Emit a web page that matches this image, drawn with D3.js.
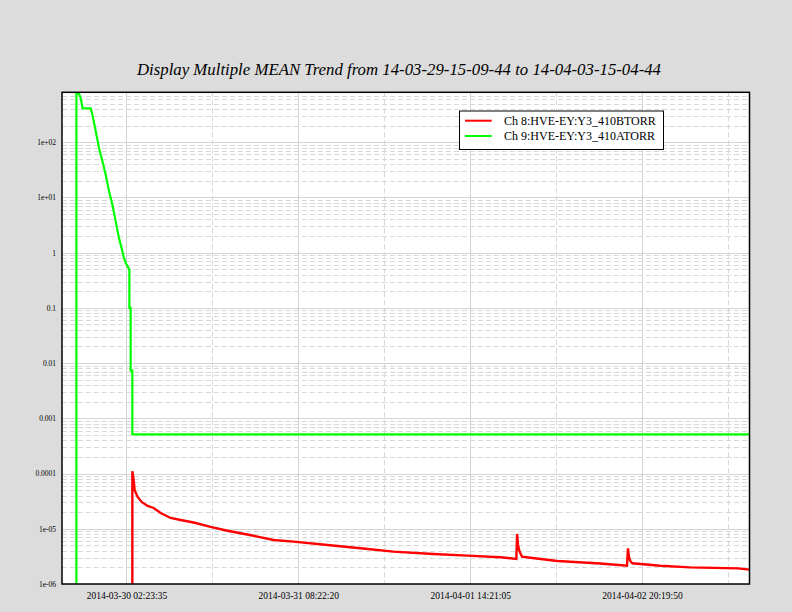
<!DOCTYPE html>
<html><head><meta charset="utf-8">
<script src="https://cdn.jsdelivr.net/npm/d3@7"></script>
<style>html,body{margin:0;padding:0;background:#dcdcdc;} svg{display:block}</style>
</head><body>
<svg id="chart" width="792" height="612"></svg>
<script>
const titleText = "Display Multiple MEAN Trend from 14-03-29-15-09-44 to 14-04-03-15-04-44";
const startTime = "2014-03-29T15:09:44Z";
const endTime = "2014-04-03T15:04:44Z";
const xTickLabels = ["2014-03-30 02:23:35", "2014-03-31 08:22:20", "2014-04-01 14:21:05", "2014-04-02 20:19:50"];
const yTickValues = [100, 10, 1, 0.1, 0.01, 0.001, 0.0001, 1e-5, 1e-6];
const yTickLabels = ["1e+02", "1e+01", "1", "0.1", "0.01", "0.001", "0.0001", "1e-05", "1e-06"];
const yDomain = [1e-6, 800];
const seriesNames = ["Ch 8:HVE-EY:Y3_410BTORR", "Ch 9:HVE-EY:Y3_410ATORR"];
const seriesColors = ["#ff0000", "#00ff00"];

// hours since start time
const redHours = [12.270, 12.271, 12.497, 12.671, 13.194, 13.892, 14.937, 15.983, 17.203, 18.946, 20.689, 22.955, 25.918, 28.881, 32.541, 36.899, 40.385, 46.311, 52.063, 57.815, 64.786, 70.712, 76.464, 79.253, 79.375, 79.549, 79.724, 79.950, 80.247, 81.694, 86.400, 93.894, 98.548, 98.723, 98.897, 99.124, 99.472, 104.353, 109.582, 117.947, 119.917];
const redValues = [0, 1.1e-4, 7.7e-5, 5.0e-5, 3.77e-5, 3.06e-5, 2.59e-5, 2.38e-5, 1.93e-5, 1.57e-5, 1.44e-5, 1.30e-5, 1.08e-5, 9.2e-6, 7.8e-6, 6.27e-6, 5.84e-6, 5.09e-6, 4.43e-6, 3.85e-6, 3.50e-6, 3.26e-6, 3.05e-6, 2.84e-6, 8.05e-6, 5.1e-6, 4.13e-6, 3.6e-6, 3.12e-6, 2.99e-6, 2.61e-6, 2.35e-6, 2.14e-6, 4.43e-6, 3.08e-6, 2.61e-6, 2.37e-6, 2.14e-6, 2.0e-6, 1.92e-6, 1.82e-6];
const greenHours = [2.510, 2.511, 2.963, 3.259, 3.608, 5.002, 5.299, 5.874, 6.449, 7.042, 7.617, 8.192, 8.785, 9.360, 9.935, 10.528, 10.806, 11.103, 11.399, 11.748, 11.749, 11.974, 11.975, 12.270, 12.271, 119.917];
const greenValues = [0, 753, 753, 637, 408, 408, 318, 159, 79.2, 45.5, 26.0, 13.0, 7.43, 3.72, 1.85, 1.06, 0.805, 0.653, 0.569, 0.494, 0.1, 0.1, 0.0073, 0.0073, 5.1e-4, 5.1e-4];

const svg = d3.select("#chart");
const W = 792, H = 612;
const plot = {left: 62, right: 749.5, top: 92.3, bottom: 584};

const t0 = new Date(startTime), t1 = new Date(endTime);
const x = d3.scaleUtc().domain([t0, t1]).range([plot.left, plot.right]);
const y = d3.scaleLog().domain(yDomain).range([plot.bottom, plot.top]);

const toDate = h => new Date(t0.getTime() + h * 3600e3);
const parseLabel = d3.utcParse("%Y-%m-%d %H:%M:%S");
const xTickDates = xTickLabels.map(parseLabel);
const step = xTickDates[1] - xTickDates[0];
const xMinorDates = xTickDates.map(d => new Date(d.getTime() + step / 2)).filter(d => d < t1);

svg.append("rect").attr("width", W).attr("height", H).attr("fill", "#dcdcdc");
svg.append("rect").attr("x", plot.left).attr("y", plot.top)
  .attr("width", plot.right - plot.left).attr("height", plot.bottom - plot.top).attr("fill", "#ffffff");

// title
svg.append("text").attr("x", 399).attr("y", 75)
  .attr("text-anchor", "middle")
  .style("font-family", "'Liberation Serif', 'DejaVu Serif', serif")
  .style("font-style", "italic").style("font-size", "16.8px").attr("fill", "#000")
  .text(titleText);

const grid = svg.append("g");
// minor y grid
const minorY = [];
for (let e = -6; e <= 2; e++) for (let m = 2; m <= 9; m++) {
  const v = m * Math.pow(10, e);
  if (v < yDomain[1]) minorY.push(v);
}
grid.selectAll("line.my").data(minorY).join("line")
  .attr("x1", plot.left).attr("x2", plot.right)
  .attr("y1", d => Math.round(y(d)) + 0.5).attr("y2", d => Math.round(y(d)) + 0.5)
  .attr("stroke", "#d8d8d8").attr("stroke-width", 1).attr("stroke-dasharray", "5,3");
grid.selectAll("line.mx").data(xMinorDates).join("line")
  .attr("x1", d => Math.round(x(d)) + 0.5).attr("x2", d => Math.round(x(d)) + 0.5)
  .attr("y1", plot.top).attr("y2", plot.bottom)
  .attr("stroke", "#d8d8d8").attr("stroke-width", 1).attr("stroke-dasharray", "5,3");
// major grid
grid.selectAll("line.Y").data(yTickValues).join("line")
  .attr("x1", plot.left).attr("x2", plot.right)
  .attr("y1", d => Math.round(y(d)) + 0.5).attr("y2", d => Math.round(y(d)) + 0.5)
  .attr("stroke", "#d3d3d3").attr("stroke-width", 1);
grid.selectAll("line.X").data(xTickDates).join("line")
  .attr("x1", d => Math.round(x(d)) + 0.5).attr("x2", d => Math.round(x(d)) + 0.5)
  .attr("y1", plot.top).attr("y2", plot.bottom)
  .attr("stroke", "#d3d3d3").attr("stroke-width", 1);

// clip
svg.append("clipPath").attr("id", "clip").append("rect")
  .attr("x", plot.left).attr("y", plot.top)
  .attr("width", plot.right - plot.left).attr("height", plot.bottom - plot.top);

const yv = v => v > 0 ? y(v) : plot.bottom;
const line = d3.line().x(d => x(d.t)).y(d => yv(d.v));
const greenData = greenHours.map((h, i) => ({t: toDate(h), v: greenValues[i]}));
const redData = redHours.map((h, i) => ({t: toDate(h), v: redValues[i]}));

const lines = svg.append("g").attr("clip-path", "url(#clip)");
lines.append("path").datum(greenData).attr("d", line)
  .attr("fill", "none").attr("stroke", seriesColors[1]).attr("stroke-width", 2.2);
lines.append("path").datum(redData).attr("d", line)
  .attr("fill", "none").attr("stroke", seriesColors[0]).attr("stroke-width", 2.4);

// axes labels
const xAxis = d3.axisBottom(x).tickValues(xTickDates).tickFormat((d, i) => xTickLabels[i]).tickSize(0).tickPadding(8);
const gx = svg.append("g").attr("transform", `translate(0,${plot.bottom})`).call(xAxis);
gx.select(".domain").remove();
gx.selectAll("text").style("font-family", "'Liberation Serif', serif").style("font-size", "9.5px").attr("fill", "#000");

const yAxis = d3.axisLeft(y).tickValues(yTickValues).tickFormat((d, i) => yTickLabels[i]).tickSize(0).tickPadding(6);
const gy = svg.append("g").attr("transform", `translate(${plot.left},0)`).call(yAxis);
gy.select(".domain").remove();
gy.selectAll("text").style("font-family", "'Liberation Serif', serif").style("font-size", "7.5px").attr("fill", "#000");

// border
svg.append("rect").attr("x", plot.left).attr("y", plot.top)
  .attr("width", plot.right - plot.left).attr("height", plot.bottom - plot.top)
  .attr("fill", "none").attr("stroke", "#000").attr("stroke-width", 1.5);

// legend
const lg = svg.append("g");
lg.append("rect").attr("x", 459.5).attr("y", 111).attr("width", 204).attr("height", 38.5)
  .attr("fill", "#fff").attr("stroke", "#000").attr("stroke-width", 1);
const order = [0, 1];
order.forEach((k, i) => {
  const yy = 120.7 + i * 15.3;
  lg.append("line").attr("x1", 465).attr("x2", 491.7).attr("y1", yy).attr("y2", yy)
    .attr("stroke", seriesColors[k]).attr("stroke-width", 2);
  lg.append("text").attr("x", 504).attr("y", yy + 4.3)
    .style("font-family", "'Liberation Serif', serif").style("font-size", "12px").attr("fill", "#000")
    .text(seriesNames[k]);
});
</script>
</body></html>
